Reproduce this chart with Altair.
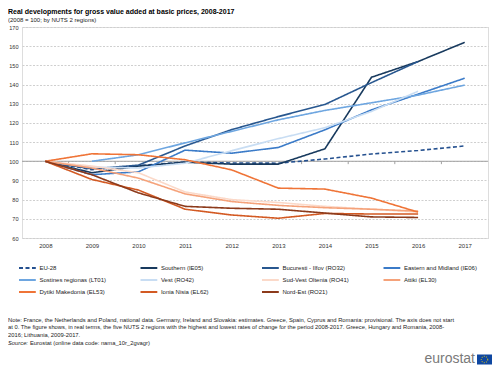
import altair as alt
import pandas as pd

years = [2008, 2009, 2010, 2011, 2012, 2013, 2014, 2015, 2016, 2017]
yticks = [60, 70, 80, 90, 100, 110, 120, 130, 140, 150, 160, 170]
baseline = [100]

regions = ["EU-28", "Southern (IE05)", "Bucuresti - Ilfov (RO32)", "Eastern and Midland (IE06)",
           "Sostines regionas (LT01)", "Vest (RO42)", "Sud-Vest Oltenia (RO41)", "Attiki (EL30)",
           "Dytiki Makedonia (EL53)", "Ionia Nisia (EL62)", "Nord-Est (RO21)"]

eu28 = [100, 95.6, 97.7, 99.6, 99.1, 99.0, 101.2, 103.8, 105.6, 108.0]
southern = [100, 94.0, 97.5, 99.5, 98.5, 98.5, 106.5, 143.8, 152.0, 162.0]
bucuresti = [100, 96.0, 98.0, 108.0, 116.5, 123.3, 129.6, 141.0, 152.0, None]
eastern = [100, 93.0, 94.5, 105.8, 104.2, 107.2, 116.4, 126.8, 135.0, 143.3]
sostines = [None, 100, 103.4, 109.6, 115.6, 121.6, 126.5, 130.5, 134.5, 139.7]
vest = [100, 97.0, 96.5, 99.0, 105.5, 111.8, 117.5, 126.0, 136.5, None]
sudvest = [100, 97.5, 94.0, 84.0, 80.0, 78.5, 76.5, 75.0, 73.5, None]
attiki = [100, 96.5, 91.2, 83.0, 79.0, 77.0, 75.8, 75.0, 74.0, None]
dytiki = [100, 103.9, 103.4, 100.8, 95.5, 86.0, 85.5, 80.8, 73.5, None]
ionia = [100, 90.5, 85.0, 75.0, 72.0, 70.3, 72.8, 72.5, 72.5, None]
nordest = [100, 93.0, 83.5, 76.5, 75.5, 75.0, 73.0, 71.0, 70.7, None]

series = [eu28, southern, bucuresti, eastern, sostines, vest, sudvest, attiki, dytiki, ionia, nordest]
colors = ["#24508f", "#183a5e", "#28578f", "#3b7bc8", "#6ea6e0", "#c8ddf3",
          "#fbd9c9", "#f5a27a", "#ef7437", "#d35a23", "#8c3a1b"]
dashes = [[4, 2.5]] + [[1, 0]] * 10

title = "Real developments for gross value added at basic prices, 2008-2017"
subtitle = "(2008 = 100; by NUTS 2 regions)"
notes = [
    "Note: France, the Netherlands and Poland, national data. Germany, Ireland and Slovakia: estimates. Greece, Spain, Cyprus and Romania: provisional. The axis does not start",
    "at 0. The figure shows, in real terms, the five NUTS 2 regions with the highest and lowest rates of change for the period 2008-2017. Greece, Hungary and Romania, 2008-",
    "2016; Lithuania, 2009-2017.",
]
source_label = "Source:"
source_text = "Eurostat (online data code: nama_10r_2gvagr)"

rows = []
for name, vals in zip(regions, series):
    for yr, v in zip(years, vals):
        if v is not None:
            rows.append({"region": name, "year": yr, "value": v})
df = pd.DataFrame(rows)

FONT = "Liberation Sans"
W, H = 466, 211

leg = alt.Legend(orient="none", legendX=-1.6, legendY=234, columns=4, direction="horizontal",
                 gridAlign="all", columnPadding=22.5, rowPadding=1, labelFont=FONT, labelFontSize=6,
                 labelColor="#222222", symbolType="M-1.4,0H1.4", symbolSize=144,
                 symbolStrokeWidth=2, labelOffset=5, title=None, padding=0)

xscale = alt.Scale(domain=[2007.5, 2017.5], nice=False, zero=False)
yscale = alt.Scale(domain=[60, 170], nice=False, zero=False)
xaxis = alt.Axis(values=years, format="d", grid=False, domain=False, ticks=False,
                 labelFont=FONT, labelFontSize=6, labelColor="#333333",
                 labelPadding=4, title=None)
yaxis = alt.Axis(values=yticks, grid=True, gridDash=[2, 1.5], gridColor="#cfcfcf",
                 domain=False, ticks=False, labelFont=FONT, labelFontSize=5.6,
                 labelColor="#333333", labelPadding=4, title=None,
                 labelOverlap=False, labelFlush=False)

base_df = pd.DataFrame({"value": baseline})
rule100 = alt.Chart(base_df).mark_rule(color="#a0a0a0", strokeWidth=1).encode(
    y=alt.Y("value:Q", scale=yscale, axis=yaxis))

bounds = pd.DataFrame({"year": [y + 0.5 for y in years[:-1]], "value": [100] * 9, "v2": [98.5] * 9})
ticks = alt.Chart(bounds).mark_rule(color="#a0a0a0", strokeWidth=1).encode(
    x=alt.X("year:Q", scale=xscale, axis=xaxis),
    y=alt.Y("value:Q", scale=yscale, axis=yaxis), y2="v2:Q")

lines = alt.Chart(df).mark_line(strokeWidth=1.6).encode(
    x=alt.X("year:Q", scale=xscale, axis=xaxis),
    y=alt.Y("value:Q", scale=yscale, axis=yaxis),
    color=alt.Color("region:N", scale=alt.Scale(domain=regions, range=colors), legend=leg),
    strokeDash=alt.StrokeDash("region:N", scale=alt.Scale(domain=regions, range=dashes), legend=leg),
    order=alt.Order("year:Q"),
)

def txt(t, x, y, size, **kw):
    return alt.Chart(pd.DataFrame({"t": [t]})).mark_text(
        align=kw.pop("align", "left"), baseline="middle", font=FONT, fontSize=size, **kw
    ).encode(text="t:N", x=alt.value(x), y=alt.value(y))

texts = [
    txt(title, -14, -15, 7, fontWeight="bold", color="#000000"),
    txt(subtitle, -14, -7.5, 6, color="#222222"),
]
for i, n in enumerate(notes):
    texts.append(txt(n, -14, 292.5 + i * 7.8, 5.8, color="#222222"))
texts.append(txt(source_label, -14, 316, 5.8, color="#222222", fontStyle="italic"))
texts.append(txt(source_text, 8, 316, 5.8, color="#222222"))
texts.append(txt("eurostat", 453, 332, 14, color="#7a7a7a", align="right"))

dummy = pd.DataFrame({"d": [0]})
flag = alt.Chart(dummy).mark_rect(color="#0e47a1").encode(
    x=alt.value(455), x2=alt.value(470), y=alt.value(327.5), y2=alt.value(337.5))
stars = alt.Chart(dummy).mark_point(shape="circle", filled=False, stroke="#ffd700",
                                    strokeWidth=1.2, strokeDash=[1, 1.3], size=40).encode(
    x=alt.value(462.5), y=alt.value(332.5))

chart = alt.layer(rule100, ticks, lines, *texts, flag, stars).properties(
    width=W, height=H,
    padding={"left": 14, "top": 19, "right": 4, "bottom": 137},
    autosize=alt.AutoSizeParams(type="none"),
).configure_view(stroke=None).configure(background="white")

chart.save("out.html", embed_options={"renderer": "svg", "actions": False})
